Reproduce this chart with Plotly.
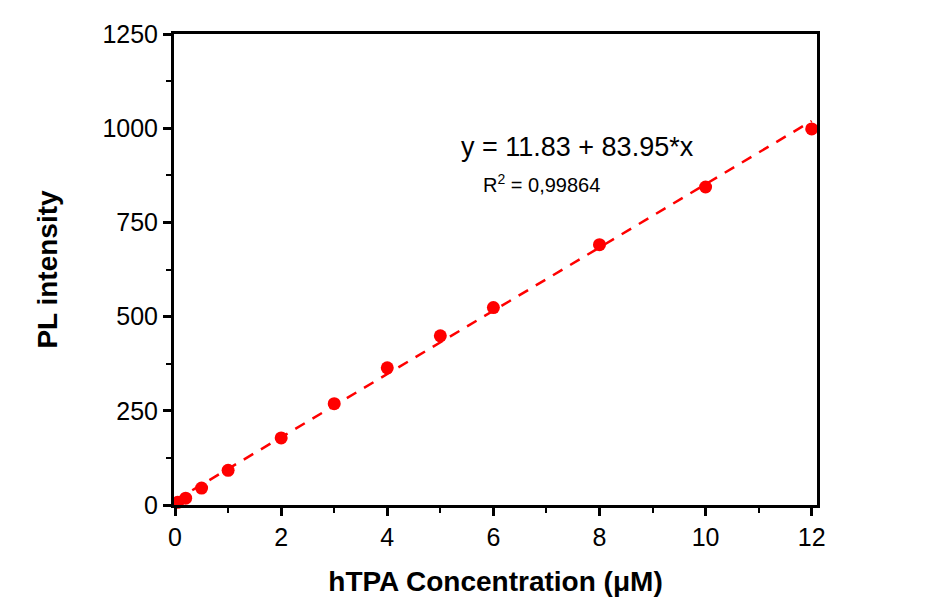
import plotly.graph_objects as go

conc = [0.05, 0.2, 0.5, 1, 2, 3, 4, 5, 6, 8, 10, 12]
pl = [7, 18, 45, 92, 178, 269, 364, 449, 524, 691, 844, 998]
intercept = 11.83
slope = 83.95
fit_x = [0, 12]
fit_y = [intercept + slope * v for v in fit_x]

FONT = "Arial, Liberation Sans, sans-serif"
XR = [-0.02, 12.1]
YR = [0, 1250]

fig = go.Figure()
fig.add_trace(go.Scatter(x=fit_x, y=fit_y, mode="lines",
                         line=dict(color="#ff0000", width=2.5, dash="11px,9px"),
                         showlegend=False, hoverinfo="skip"))
fig.add_trace(go.Scatter(x=conc, y=pl, mode="markers",
                         marker=dict(color="#ff0000", size=13),
                         showlegend=False, cliponaxis=False))

# page pixel -> data coords (plot area: x 174..817, y 32..505 on the page)
def px_to_x(px):
    return XR[0] + (px - 174) / (817 - 174) * (XR[1] - XR[0])

def px_to_y(py):
    return (505 - py) / (505 - 32) * (YR[1] - YR[0])

fig.add_annotation(x=px_to_x(577), y=px_to_y(145), text="y = 11.83 + 83.95*x",
                   showarrow=False, font=dict(family=FONT, size=27, color="black"))
fig.add_annotation(x=px_to_x(541), y=px_to_y(182), text="R<sup>2</sup> = 0,99864",
                   showarrow=False, font=dict(family=FONT, size=20, color="black"))

axis_common = dict(showline=True, linecolor="black", linewidth=3, mirror=True,
                   ticks="outside", ticklen=8, tickwidth=3, tickcolor="black",
                   showgrid=False, zeroline=False,
                   tickfont=dict(family=FONT, size=25, color="black"))

fig.update_xaxes(range=XR, tickvals=[0, 2, 4, 6, 8, 10, 12],
                 minor=dict(dtick=1, tick0=0, ticks="outside", ticklen=5, tickwidth=2, tickcolor="black"),
                 title=dict(text="<b>hTPA Concentration (μM)</b>", font=dict(family=FONT, size=28, color="black"), standoff=22),
                 **axis_common)
fig.update_yaxes(range=YR, tickvals=[0, 250, 500, 750, 1000, 1250],
                 minor=dict(dtick=125, tick0=0, ticks="outside", ticklen=5, tickwidth=2, tickcolor="black"),
                 title=dict(text="<b>PL intensity</b>", font=dict(family=FONT, size=28, color="black"), standoff=37),
                 **axis_common)

fig.update_layout(width=936, height=608, margin=dict(l=166, r=127, t=22, b=111),
                  plot_bgcolor="white", paper_bgcolor="white")

fig.write_html("out.html")
